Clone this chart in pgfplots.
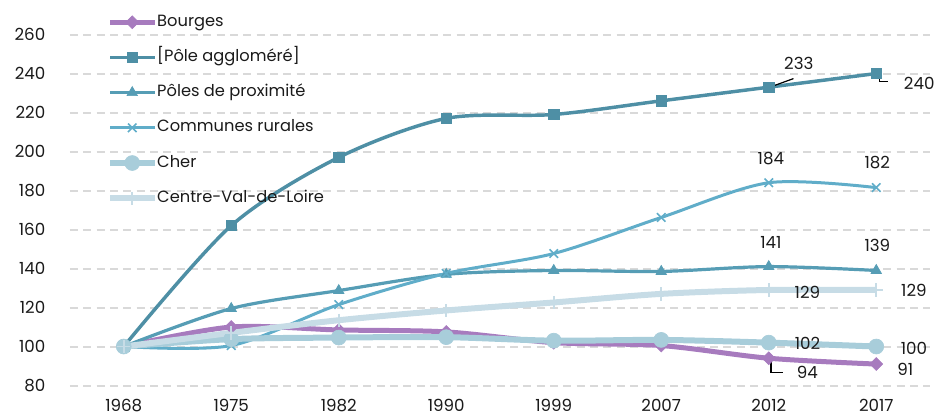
\documentclass[border=0pt]{standalone}
\usepackage{pgfplots}
\pgfplotsset{compat=1.18}
\usepackage{fontspec}
\setmainfont{Poppins}
\definecolor{cBou}{RGB}{167,123,190}
\definecolor{cPol}{RGB}{78,143,165}
\definecolor{cProx}{RGB}{86,157,181}
\definecolor{cRur}{RGB}{96,173,201}
\definecolor{cCher}{RGB}{168,205,218}
\definecolor{cCVL}{RGB}{199,220,230}
\definecolor{cGrid}{RGB}{217,217,217}
\definecolor{cTxt}{RGB}{26,26,26}
\begin{document}
\begin{tikzpicture}
\begin{axis}[
  scale only axis,
  width=645pt, height=263.25pt,
  xmin=-0.5, xmax=7.5, ymin=80, ymax=260,
  xtick={0,...,7},
  xticklabels={1968,1975,1982,1990,1999,2007,2012,2017},
  ytick={80,100,...,260},
  /pgf/number format/assume math mode=true,
  axis line style={draw=none},
  major tick length=0pt,
  ymajorgrids,
  grid style={cGrid, line width=1.5pt, dash pattern=on 6pt off 4pt},
  tick label style={font=\fontsize{12.5}{15}\selectfont, text=cTxt},
  xticklabel style={yshift=-6.5pt},
  yticklabel style={xshift=-15pt},
  clip=false,
  legend cell align=left,
  legend style={at={(0.043,1.0586)}, anchor=north west, draw=none, fill=none,
    font=\fontsize{12.2}{15}\selectfont, text=cTxt,
    row sep=14.4pt, inner sep=0pt,
    nodes={inner sep=0pt, text height=9pt, text depth=3pt}},
  legend image code/.code={\draw[mark repeat=2,mark phase=2] plot coordinates {(0pt,0pt)(16.5pt,0pt)(33pt,0pt)};},
]
\addplot[cBou, line width=3.75pt, smooth, tension=0.5, mark=square*, mark size=3.4pt, mark options={rotate=45, line width=0.5pt, fill=cBou}]
  coordinates {(0,100)(1,110)(2,108.5)(3,107.5)(4,102)(5,100.5)(6,94)(7,91)};
\addlegendentry{Bourges}
\addplot[cPol, line width=2.6pt, smooth, tension=0.5, mark=square*, mark size=3.9pt, mark options={line width=0.5pt, fill=cPol}]
  coordinates {(0,100)(1,162)(2,197)(3,217)(4,219)(5,226)(6,233)(7,240)};
\addlegendentry{[Pôle aggloméré]}
\addplot[cProx, line width=2.4pt, smooth, tension=0.5, mark=triangle*, mark size=4.5pt, mark options={line width=0.5pt, fill=cProx}]
  coordinates {(0,100)(1,119.5)(2,128.7)(3,137)(4,139)(5,138.5)(6,141)(7,139)};
\addlegendentry{Pôles de proximité}
\addplot[cRur, line width=2.25pt, smooth, tension=0.5, mark=x, mark size=4.5pt, mark options={line width=1.2pt}]
  coordinates {(0,100)(1,100.5)(2,121.5)(3,137.5)(4,147.7)(5,166.2)(6,184)(7,181.5)};
\addlegendentry{Communes rurales}
\addplot[cCher, line width=4.5pt, smooth, tension=0.5, mark=*, mark size=5.6pt, mark options={line width=0.5pt, fill=cCher}]
  coordinates {(0,100)(1,103.8)(2,104.6)(3,104.8)(4,103)(5,103.4)(6,102)(7,100)};
\addlegendentry{Cher}
\addplot[cCVL, line width=4.5pt, smooth, tension=0.5, mark=+, mark size=5pt, mark options={line width=1.2pt}]
  coordinates {(0,100)(1,107)(2,113.5)(3,118.5)(4,122.6)(5,127)(6,129)(7,129)};
\addlegendentry{Centre-Val-de-Loire}
% data labels
\begin{scope}[every node/.style={font=\fontsize{12.5}{15}\selectfont, text=cTxt, inner sep=0pt}]
\node at (axis cs:6.28,245.1) {233};
\node at (axis cs:7.40,234.9) {240};
\node at (axis cs:6.02,196.4) {184};
\node at (axis cs:7.01,194.4) {182};
\node at (axis cs:6.02,153.3) {141};
\node at (axis cs:7.01,151.8) {139};
\node at (axis cs:6.36,127.7) {129};
\node at (axis cs:7.35,128.7) {129};
\node at (axis cs:6.36,101.5) {102};
\node at (axis cs:7.35,99) {100};
\node at (axis cs:6.36,86.7) {94};
\node at (axis cs:7.27,88.2) {91};
\end{scope}
\draw[black, line width=0.9pt] (axis cs:6.0,232.8) -- (axis cs:6.23,237.4);
\draw[black, line width=0.9pt] (axis cs:7.03,238.6) -- (axis cs:7.03,235.9) -- (axis cs:7.11,235.9);
\draw[black, line width=0.9pt] (axis cs:6.02,93.3) -- (axis cs:6.02,86.7) -- (axis cs:6.13,86.7);
\end{axis}
\pgfresetboundingbox
\path[use as bounding box] ([xshift=-52.5pt,yshift=-23.6pt]current axis.south west) rectangle ([xshift=5.25pt,yshift=25.9pt]current axis.north east);
\end{tikzpicture}
\end{document}
